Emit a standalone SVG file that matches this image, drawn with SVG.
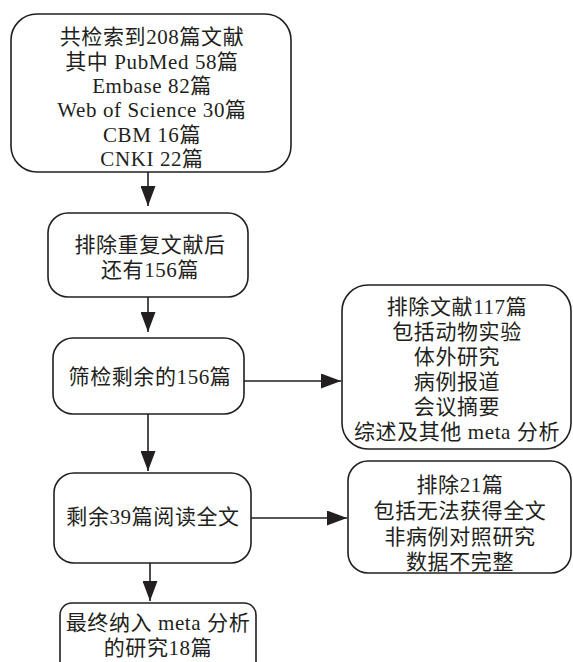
<svg xmlns="http://www.w3.org/2000/svg" width="573" height="662" viewBox="0 0 573 662">
<style>
.box{fill:#fff;stroke:#231f20;stroke-width:1.6}
.t{font-family:"Liberation Serif","Noto Sans CJK SC",serif;font-size:21px;letter-spacing:0.6px;fill:#231f20;text-anchor:middle}
.c{stroke:#231f20;stroke-width:1.6;fill:none}
</style>
<defs>
<marker id="ah" markerWidth="20" markerHeight="15" refX="20" refY="7.5" orient="auto" markerUnits="userSpaceOnUse" viewBox="0 0 20 15">
<path d="M0,0 L20,7.5 L0,15 Z" fill="#231f20"/>
</marker>
</defs>
<rect width="573" height="662" fill="#fff"/>
<g id="connectors">
<line class="c" x1="148" y1="172" x2="148" y2="206" marker-end="url(#ah)"/>
<line class="c" x1="148" y1="297" x2="148" y2="332" marker-end="url(#ah)"/>
<line class="c" x1="148" y1="414" x2="148" y2="471" marker-end="url(#ah)"/>
<line class="c" x1="150" y1="563" x2="150" y2="601" marker-end="url(#ah)"/>
<line class="c" x1="244" y1="381" x2="341" y2="381" marker-end="url(#ah)"/>
<line class="c" x1="251" y1="518" x2="347" y2="518" marker-end="url(#ah)"/>
</g>
<g id="n1">
<rect class="box" x="11" y="14" width="280" height="158" rx="26"/>
<text class="t" x="152" y="44">共检索到208篇文献</text>
<text class="t" x="152" y="69">其中 PubMed 58篇</text>
<text class="t" x="152" y="93">Embase 82篇</text>
<text class="t" x="152" y="117">Web of Science 30篇</text>
<text class="t" x="152" y="142">CBM 16篇</text>
<text class="t" x="152" y="166">CNKI 22篇</text>
</g>
<g id="n2">
<rect class="box" x="48" y="213" width="200" height="84" rx="20"/>
<text class="t" x="150" y="252">排除重复文献后</text>
<text class="t" x="150" y="277">还有156篇</text>
</g>
<g id="n3">
<rect class="box" x="53" y="338" width="191" height="76" rx="20"/>
<text class="t" x="150" y="384">筛检剩余的156篇</text>
</g>
<g id="n4">
<rect class="box" x="54" y="473" width="197" height="90" rx="20"/>
<text class="t" x="153" y="524">剩余39篇阅读全文</text>
</g>
<g id="n5">
<rect class="box" x="60" y="603" width="196" height="90" rx="12"/>
<text class="t" x="158" y="630">最终纳入 meta 分析</text>
<text class="t" x="158" y="655">的研究18篇</text>
</g>
<g id="n6">
<rect class="box" x="342" y="285" width="229" height="164" rx="26"/>
<text class="t" x="457" y="314">排除文献117篇</text>
<text class="t" x="457" y="339">包括动物实验</text>
<text class="t" x="457" y="364">体外研究</text>
<text class="t" x="457" y="389">病例报道</text>
<text class="t" x="457" y="414">会议摘要</text>
<text class="t" x="457" y="439">综述及其他 meta 分析</text>
</g>
<g id="n7">
<rect class="box" x="348" y="461" width="223" height="112" rx="20"/>
<text class="t" x="460" y="492">排除21篇</text>
<text class="t" x="460" y="518">包括无法获得全文</text>
<text class="t" x="460" y="544">非病例对照研究</text>
<text class="t" x="460" y="569">数据不完整</text>
</g>
</svg>
